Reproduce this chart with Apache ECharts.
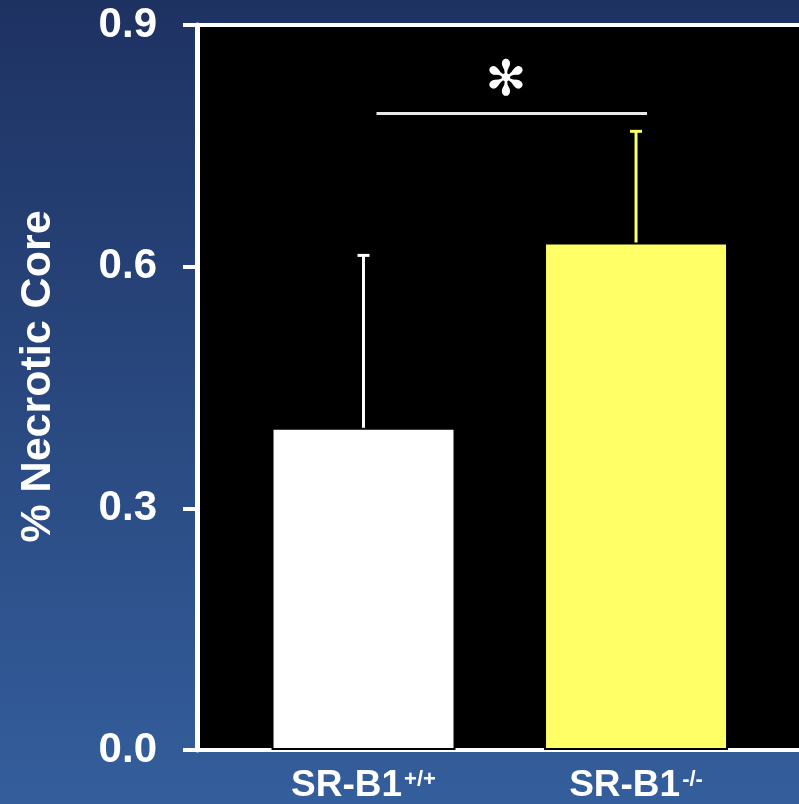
<!DOCTYPE html>
<html>
<head>
<meta charset="utf-8">
<script src="https://cdn.jsdelivr.net/npm/echarts@6/dist/echarts.min.js"></script>
<style>
html,body{margin:0;padding:0;}
#chart{width:799px;height:804px;}
</style>
</head>
<body>
<div id="chart"></div>
<script>
// ---- data ----
const categories = ['SR-B1', 'SR-B1'];
const genotypes = ['+/+', '-/-'];
const positions = [1, 2];
const means = [0.40, 0.63];
const upperErr = [0.614, 0.768];
const barColors = ['#ffffff', '#ffff66'];
const yTicks = [0, 0.3, 0.6, 0.9];
const sigPair = [1, 2];
const sigLevel = 0.79;
const sigText = '\u273B';
const yTitle = '% Necrotic Core';

const chart = echarts.init(document.getElementById('chart'));
const FONT = '"Liberation Sans", Arial, sans-serif';

const option = {
  animation: false,
  backgroundColor: {
    type: 'linear', x: 0, y: 0, x2: 0, y2: 1,
    colorStops: [
      { offset: 0, color: '#1e3262' },
      { offset: 1, color: '#345e9c' }
    ]
  },
  grid: {
    left: 197, right: 0, top: 25, bottom: 52,
    show: true, backgroundColor: '#000000', borderWidth: 0
  },
  xAxis: [{
    type: 'value', min: 0.389, max: 2.598,
    splitLine: { show: false },
    axisLine: { show: true, onZero: false, lineStyle: { color: '#ffffff', width: 4 } },
    axisTick: { show: false },
    axisLabel: {
      customValues: positions,
      margin: 17,
      color: '#ffffff',
      formatter: function (v) {
        const i = positions.indexOf(v);
        if (i < 0) return '';
        return '{b|' + categories[i] + '}{s|' + genotypes[i] + '}';
      },
      rich: {
        b: { fontSize: 37, fontWeight: 'bold', fontFamily: FONT, color: '#ffffff' },
        s: { fontSize: 22, fontWeight: 'bold', fontFamily: FONT, color: '#ffffff', verticalAlign: 'top', padding: [2, 0, 0, 2] }
      }
    }
  }, {
    type: 'value', position: 'top', min: 0.389, max: 2.598,
    splitLine: { show: false },
    axisLine: { show: true, onZero: false, lineStyle: { color: '#ffffff', width: 4 } },
    axisTick: { show: false }, axisLabel: { show: false }
  }],
  yAxis: {
    type: 'value', min: 0, max: 0.9, interval: 0.3,
    splitLine: { show: false },
    axisLine: { show: true, lineStyle: { color: '#ffffff', width: 5 } },
    axisTick: { show: true, inside: false, length: 14, lineStyle: { color: '#ffffff', width: 4 } },
    axisLabel: {
      margin: 40, color: '#ffffff', fontSize: 42, fontWeight: 'bold', fontFamily: FONT,
      formatter: v => v.toFixed(1)
    },
    name: yTitle, nameLocation: 'middle', nameRotate: 90, nameGap: 137,
    nameTextStyle: { color: '#ffffff', fontSize: 43, fontWeight: 'bold', fontFamily: FONT, padding: [0, 0, 0, 22] }
  },
  series: [{
    type: 'bar',
    barWidth: 184,
    data: positions.map((p, i) => ({
      value: [p, means[i]],
      itemStyle: { color: barColors[i], borderColor: '#000000', borderWidth: 2 }
    })),
    z: 3
  }, {
    type: 'custom',
    z: 4,
    data: positions.map((p, i) => [p, means[i], upperErr[i], i]),
    renderItem: function (params, api) {
      const x = api.value(0);
      const lo = api.coord([x, api.value(1)]);
      const hi = api.coord([x, api.value(2)]);
      const c = barColors[api.value(3)];
      return {
        type: 'group',
        children: [
          { type: 'line', shape: { x1: lo[0], y1: lo[1], x2: hi[0], y2: hi[1] }, style: { stroke: c, lineWidth: 3 } },
          { type: 'line', shape: { x1: hi[0] - 6, y1: hi[1], x2: hi[0] + 6, y2: hi[1] }, style: { stroke: c, lineWidth: 3 } }
        ]
      };
    }
  }, {
    type: 'custom',
    z: 4,
    data: [[sigPair[0], sigPair[1], sigLevel]],
    renderItem: function (params, api) {
      const a = api.coord([api.value(0), api.value(2)]);
      const b = api.coord([api.value(1), api.value(2)]);
      const mid = (a[0] + b[0]) / 2;
      return {
        type: 'group',
        children: [
          { type: 'line', shape: { x1: a[0] + 13, y1: a[1], x2: b[0] + 11, y2: b[1] }, style: { stroke: '#e8e8e8', lineWidth: 3 } },
          { type: 'text', x: mid + 6, y: a[1] - 31, style: { text: sigText, fill: '#ffffff', font: '49px "DejaVu Sans"', align: 'center', verticalAlign: 'middle' } }
        ]
      };
    }
  }]
};
chart.setOption(option);
</script>
</body>
</html>
